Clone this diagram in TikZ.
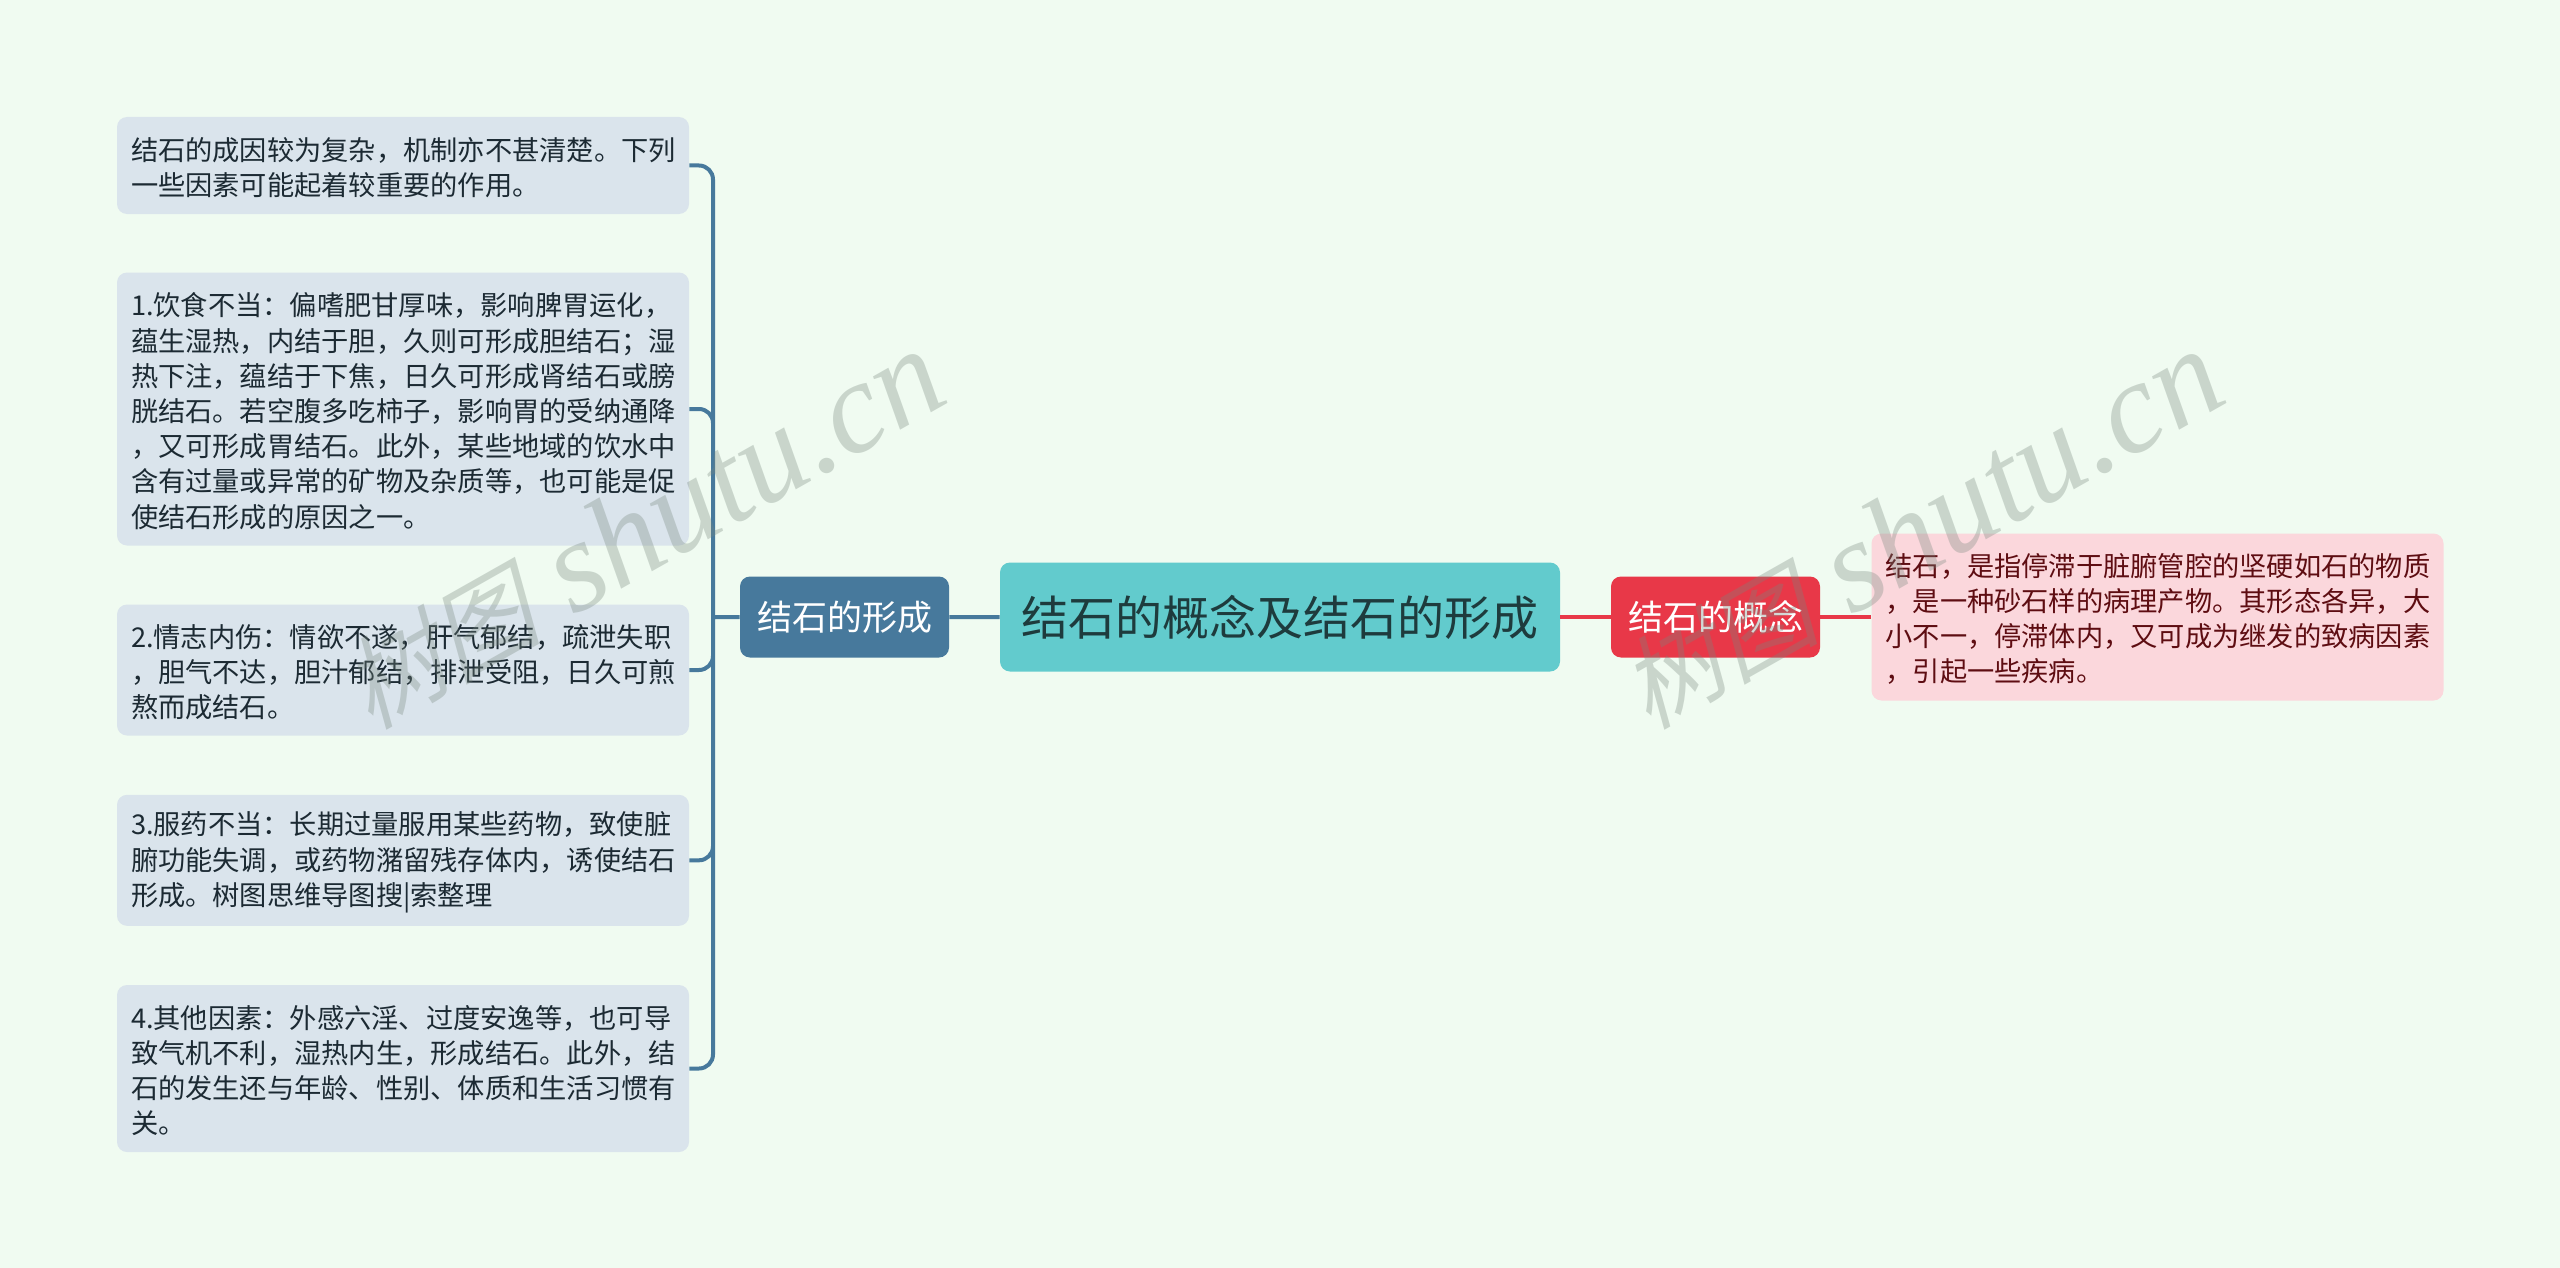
\documentclass[tikz,border=0pt]{standalone}
\usepackage{fontspec}
\setmainfont{Noto Sans CJK SC}
\newfontfamily\markfont{Liberation Serif}[ItalicFont=Liberation Serif Italic]
\newfontfamily\markcjk{Noto Sans CJK SC}[AutoFakeSlant=0.25]

\definecolor{pagebg}{HTML}{F0FBF1}
\definecolor{notefill}{HTML}{DAE4EC}
\definecolor{notetext}{HTML}{1C2A33}
\definecolor{rootfill}{HTML}{62CBCD}
\definecolor{roottext}{HTML}{1E3B3D}
\definecolor{bluefill}{HTML}{47799C}
\definecolor{redfill}{HTML}{E83848}
\definecolor{pinkfill}{HTML}{FBD7DC}
\definecolor{pinktext}{HTML}{5E0D12}
\definecolor{markgray}{HTML}{77877D}

\tikzset{
	box/.style={rounded corners=5pt, inner xsep=0pt, inner ysep=0pt, align=center},
	notebox/.style={box, fill=notefill, text=notetext, align=left, text width=272pt, inner xsep=7pt,
		font=\fontsize{13.62}{17.6}\selectfont, execute at begin node={\rule{0pt}{13.6pt}}},
	rootbox/.style={box, fill=rootfill, text=roottext, minimum width=280pt, minimum height=54.5pt,
		font=\fontsize{23.5}{28}\selectfont},
	bluebox/.style={box, fill=bluefill, text=white, minimum width=104.5pt, minimum height=40.5pt,
		font=\fontsize{17.5}{21}\selectfont},
	redbox/.style={bluebox, fill=redfill},
	bluelink/.style={draw=bluefill, line width=2pt, rounded corners=7pt},
	redlink/.style={draw=redfill, line width=2pt},
	shutumark/.style={text=markgray, opacity=0.32, rotate=29.5, font=\markfont\itshape\fontsize{65}{65}\selectfont}
}

\begin{document}
\begin{tikzpicture}[x=0.5pt, y=-0.5pt]
	\fill[pagebg] (0, 0) rectangle (2560, 1268);
	\useasboundingbox (0, 0) rectangle (2560, 1268);

	\node[rootbox] (root) at (1280, 617) {结石的概念及结石的形成};
	\node[bluebox] (form) at (844.5, 617) {结石的形成};
	\node[redbox] (concept) at (1715.5, 617) {结石的概念};
	\coordinate (trunk) at (713, 617);

	\node[notebox, minimum height=48.5pt] (why) at (403, 165.5) {结石的成因较为复杂，机制亦不甚清楚。下列\\一些因素可能起着较重要的作用。};
	\node[notebox, minimum height=136.5pt] (diet) at (403, 409) {1.饮食不当：偏嗜肥甘厚味，影响脾胃运化，\\蕴生湿热，内结于胆，久则可形成胆结石；湿\\热下注，蕴结于下焦，日久可形成肾结石或膀\\胱结石。若空腹多吃柿子，影响胃的受纳通降\\，又可形成胃结石。此外，某些地域的饮水中\\含有过量或异常的矿物及杂质等，也可能是促\\使结石形成的原因之一。};
	\node[notebox, minimum height=65.5pt] (mood) at (403, 670) {2.情志内伤：情欲不遂，肝气郁结，疏泄失职\\，胆气不达，胆汁郁结，排泄受阻，日久可煎\\熬而成结石。};
	\node[notebox, minimum height=65.5pt] (drug) at (403, 860.3) {3.服药不当：长期过量服用某些药物，致使脏\\腑功能失调，或药物潴留残存体内，诱使结石\\形成。树图思维导图搜|索整理};
	\node[notebox, minimum height=83.5pt] (other) at (403, 1068.5) {4.其他因素：外感六淫、过度安逸等，也可导\\致气机不利，湿热内生，形成结石。此外，结\\石的发生还与年龄、性别、体质和生活习惯有\\关。};
	\node[notebox, fill=pinkfill, text=pinktext, minimum height=83.5pt] (stone) at (2157.5, 617) {结石，是指停滞于脏腑管腔的坚硬如石的物质\\，是一种砂石样的病理产物。其形态各异，大\\小不一，停滞体内，又可成为继发的致病因素\\，引起一些疾病。};

	\draw[bluelink]
		(root.west) -- (form.east)
		(form.west) -- (trunk)
		(why.east) -| (trunk)
		(diet.east) -| (trunk)
		(mood.east) -| (trunk)
		(drug.east) -| (trunk)
		(other.east) -| (trunk)
	;
	\draw[redlink]
		(root.east) -- (concept.west)
		(concept.east) -- (stone.west)
	;

	\node[shutumark] (markleft) at (642, 530) {{\markcjk\fontsize{50}{50}\selectfont 树图} shutu.cn};
	\node[shutumark] (markright) at (1920, 530) {{\markcjk\fontsize{50}{50}\selectfont 树图} shutu.cn};
\end{tikzpicture}
\end{document}
